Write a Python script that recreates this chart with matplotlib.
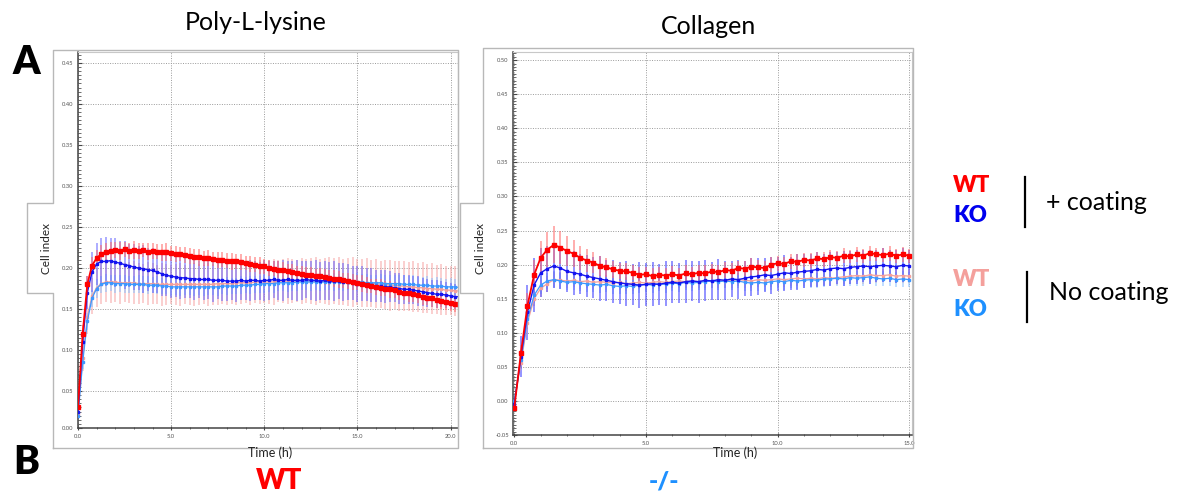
import numpy as np
import matplotlib
matplotlib.use("Agg")
import matplotlib.pyplot as plt
from matplotlib.lines import Line2D
from matplotlib.ticker import MultipleLocator, FuncFormatter, FixedLocator

# ---------------- data ----------------
panel_titles = ["Poly-L-lysine", "Collagen"]
x_label = "Time (h)"
y_label = "Cell index"

# Poly-L-lysine panel, readings every 0.25 h from 0 to 20.5 h
t_left = np.arange(0, 20.5 + 1e-9, 0.25)
L_wt_coat = [0.030, 0.120, 0.180, 0.203, 0.212, 0.217, 0.220, 0.221,
             0.222, 0.221, 0.223, 0.221, 0.222, 0.221, 0.222, 0.220,
             0.221, 0.220, 0.219, 0.219, 0.218, 0.217, 0.217, 0.216,
             0.215, 0.214, 0.213, 0.212, 0.212, 0.211, 0.210, 0.210,
             0.209, 0.208, 0.208, 0.207, 0.206, 0.205, 0.204, 0.203,
             0.202, 0.200, 0.199, 0.198, 0.197, 0.196, 0.195, 0.194,
             0.193, 0.192, 0.191, 0.190, 0.190, 0.189, 0.188, 0.187,
             0.186, 0.185, 0.184, 0.183, 0.182, 0.181, 0.179, 0.178,
             0.177, 0.176, 0.175, 0.174, 0.173, 0.171, 0.170, 0.169,
             0.168, 0.167, 0.165, 0.164, 0.163, 0.161, 0.160, 0.159,
             0.157, 0.156, 0.155]
L_wt_coat_err = [0.005, 0.010, 0.010, 0.010, 0.010, 0.011, 0.010, 0.011,
                 0.010, 0.011, 0.009, 0.010, 0.011, 0.010, 0.009, 0.010,
                 0.010, 0.009, 0.010, 0.011, 0.009, 0.010, 0.009, 0.010,
                 0.010, 0.009, 0.010, 0.009, 0.010, 0.009, 0.010, 0.009,
                 0.009, 0.010, 0.009, 0.010, 0.009, 0.010, 0.009, 0.010,
                 0.009, 0.010, 0.009, 0.010, 0.010, 0.009, 0.010, 0.009,
                 0.010, 0.009, 0.010, 0.009, 0.010, 0.010, 0.009, 0.010,
                 0.010, 0.009, 0.010, 0.010, 0.009, 0.010, 0.010, 0.009,
                 0.010, 0.010, 0.009, 0.010, 0.010, 0.010, 0.009, 0.010,
                 0.010, 0.010, 0.010, 0.009, 0.010, 0.010, 0.010, 0.010,
                 0.010, 0.010, 0.010]
L_ko_coat = [0.025, 0.110, 0.170, 0.195, 0.205, 0.208, 0.208, 0.209,
             0.207, 0.206, 0.204, 0.203, 0.201, 0.200, 0.199, 0.198,
             0.197, 0.195, 0.193, 0.191, 0.190, 0.189, 0.188, 0.188,
             0.187, 0.187, 0.186, 0.186, 0.186, 0.185, 0.185, 0.185,
             0.184, 0.184, 0.184, 0.185, 0.184, 0.185, 0.185, 0.184,
             0.185, 0.185, 0.186, 0.185, 0.185, 0.186, 0.185, 0.185,
             0.185, 0.186, 0.185, 0.185, 0.184, 0.185, 0.184, 0.184,
             0.184, 0.183, 0.183, 0.182, 0.181, 0.181, 0.180, 0.179,
             0.178, 0.178, 0.177, 0.177, 0.176, 0.175, 0.174, 0.174,
             0.173, 0.172, 0.171, 0.170, 0.169, 0.168, 0.168, 0.167,
             0.166, 0.165, 0.165]
L_ko_coat_err = [0.005, 0.015, 0.020, 0.024, 0.026, 0.028, 0.030, 0.028,
                 0.030, 0.027, 0.029, 0.026, 0.028, 0.027, 0.029, 0.026,
                 0.028, 0.026, 0.027, 0.025, 0.026, 0.024, 0.026, 0.025,
                 0.024, 0.026, 0.023, 0.025, 0.024, 0.026, 0.023, 0.025,
                 0.024, 0.023, 0.025, 0.024, 0.023, 0.025, 0.024, 0.023,
                 0.025, 0.024, 0.023, 0.024, 0.025, 0.023, 0.024, 0.025,
                 0.024, 0.023, 0.024, 0.025, 0.023, 0.024, 0.023, 0.024,
                 0.022, 0.023, 0.022, 0.021, 0.022, 0.021, 0.020, 0.021,
                 0.020, 0.019, 0.020, 0.019, 0.018, 0.019, 0.018, 0.018,
                 0.017, 0.018, 0.017, 0.017, 0.016, 0.017, 0.016, 0.016,
                 0.016, 0.015, 0.015]
L_wt_nocoat = [0.022, 0.090, 0.140, 0.166, 0.176, 0.181, 0.183, 0.183,
               0.183, 0.182, 0.182, 0.182, 0.182, 0.181, 0.181, 0.181,
               0.181, 0.180, 0.180, 0.180, 0.180, 0.180, 0.180, 0.180,
               0.180, 0.180, 0.180, 0.180, 0.180, 0.180, 0.181, 0.181,
               0.181, 0.181, 0.182, 0.182, 0.182, 0.182, 0.183, 0.183,
               0.183, 0.183, 0.183, 0.184, 0.184, 0.184, 0.184, 0.184,
               0.184, 0.184, 0.184, 0.184, 0.184, 0.184, 0.184, 0.184,
               0.184, 0.183, 0.183, 0.183, 0.183, 0.182, 0.182, 0.181,
               0.181, 0.180, 0.180, 0.179, 0.179, 0.178, 0.178, 0.177,
               0.177, 0.176, 0.176, 0.175, 0.175, 0.174, 0.174, 0.173,
               0.173, 0.172, 0.172]
L_wt_nocoat_err = [0.005, 0.015, 0.020, 0.022, 0.024, 0.025, 0.025, 0.026,
                   0.025, 0.026, 0.024, 0.025, 0.026, 0.025, 0.024, 0.026,
                   0.025, 0.024, 0.026, 0.025, 0.024, 0.025, 0.026, 0.024,
                   0.025, 0.026, 0.025, 0.024, 0.026, 0.025, 0.026, 0.025,
                   0.026, 0.025, 0.027, 0.026, 0.025, 0.027, 0.026, 0.027,
                   0.026, 0.027, 0.028, 0.026, 0.027, 0.028, 0.027, 0.026,
                   0.028, 0.027, 0.028, 0.029, 0.027, 0.028, 0.029, 0.028,
                   0.029, 0.028, 0.029, 0.030, 0.028, 0.029, 0.030, 0.029,
                   0.030, 0.029, 0.030, 0.031, 0.029, 0.030, 0.031, 0.030,
                   0.031, 0.030, 0.031, 0.030, 0.031, 0.030, 0.031, 0.030,
                   0.030, 0.031, 0.030]
L_ko_nocoat = [0.020, 0.085, 0.135, 0.163, 0.175, 0.180, 0.182, 0.182,
               0.181, 0.181, 0.181, 0.180, 0.180, 0.180, 0.180, 0.179,
               0.179, 0.179, 0.178, 0.178, 0.177, 0.177, 0.177, 0.177,
               0.177, 0.177, 0.177, 0.177, 0.177, 0.177, 0.177, 0.178,
               0.178, 0.178, 0.178, 0.179, 0.179, 0.179, 0.180, 0.180,
               0.181, 0.181, 0.181, 0.182, 0.182, 0.182, 0.182, 0.183,
               0.183, 0.183, 0.183, 0.183, 0.183, 0.183, 0.183, 0.183,
               0.183, 0.183, 0.183, 0.183, 0.183, 0.183, 0.182, 0.182,
               0.182, 0.182, 0.181, 0.181, 0.181, 0.181, 0.180, 0.180,
               0.180, 0.179, 0.179, 0.179, 0.178, 0.178, 0.178, 0.177,
               0.177, 0.177, 0.176]
L_ko_nocoat_err = [0.004, 0.008, 0.010, 0.010, 0.011, 0.010, 0.011, 0.010,
                   0.011, 0.010, 0.011, 0.010, 0.010, 0.011, 0.010, 0.011,
                   0.010, 0.011, 0.010, 0.010, 0.011, 0.010, 0.011, 0.010,
                   0.010, 0.011, 0.010, 0.011, 0.010, 0.010, 0.011, 0.010,
                   0.011, 0.010, 0.010, 0.011, 0.010, 0.011, 0.010, 0.010,
                   0.011, 0.010, 0.011, 0.010, 0.010, 0.011, 0.010, 0.011,
                   0.010, 0.010, 0.011, 0.010, 0.011, 0.010, 0.010, 0.011,
                   0.010, 0.011, 0.010, 0.010, 0.011, 0.010, 0.011, 0.010,
                   0.010, 0.011, 0.010, 0.011, 0.010, 0.010, 0.011, 0.010,
                   0.011, 0.010, 0.010, 0.011, 0.010, 0.011, 0.010, 0.010,
                   0.011, 0.010, 0.010]

# Collagen panel, readings every 0.25 h from 0 to 15 h
t_right = np.arange(0, 15.0 + 1e-9, 0.25)
R_wt_coat = [-0.010, 0.070, 0.140, 0.185, 0.210, 0.222, 0.229, 0.225,
             0.220, 0.216, 0.210, 0.206, 0.203, 0.198, 0.196, 0.193,
             0.191, 0.190, 0.188, 0.185, 0.186, 0.183, 0.185, 0.184,
             0.186, 0.184, 0.187, 0.186, 0.188, 0.187, 0.190, 0.189,
             0.192, 0.191, 0.195, 0.194, 0.197, 0.196, 0.195, 0.200,
             0.202, 0.201, 0.205, 0.204, 0.207, 0.206, 0.209, 0.208,
             0.211, 0.210, 0.213, 0.212, 0.215, 0.213, 0.217, 0.215,
             0.214, 0.216, 0.213, 0.215, 0.213]
R_wt_coat_err = [0.005, 0.012, 0.018, 0.022, 0.024, 0.026, 0.027, 0.024,
                 0.022, 0.020, 0.018, 0.017, 0.016, 0.015, 0.014, 0.013,
                 0.012, 0.012, 0.011, 0.012, 0.011, 0.012, 0.011, 0.011,
                 0.012, 0.011, 0.012, 0.011, 0.011, 0.012, 0.011, 0.011,
                 0.012, 0.011, 0.010, 0.011, 0.012, 0.011, 0.010, 0.011,
                 0.011, 0.010, 0.011, 0.012, 0.010, 0.011, 0.010, 0.011,
                 0.011, 0.010, 0.011, 0.010, 0.011, 0.010, 0.011, 0.010,
                 0.010, 0.011, 0.010, 0.011, 0.010]
R_ko_coat = [-0.005, 0.065, 0.130, 0.170, 0.188, 0.194, 0.198, 0.195,
             0.190, 0.188, 0.186, 0.183, 0.181, 0.179, 0.177, 0.175,
             0.173, 0.172, 0.171, 0.170, 0.171, 0.172, 0.171, 0.173,
             0.174, 0.173, 0.175, 0.176, 0.175, 0.177, 0.176, 0.178,
             0.177, 0.179, 0.178, 0.180, 0.182, 0.183, 0.185, 0.184,
             0.186, 0.188, 0.187, 0.189, 0.190, 0.191, 0.193, 0.192,
             0.194, 0.195, 0.194, 0.196, 0.197, 0.198, 0.197, 0.198,
             0.199, 0.198, 0.197, 0.199, 0.198]
R_ko_coat_err = [0.005, 0.030, 0.040, 0.040, 0.036, 0.034, 0.032, 0.031,
                 0.030, 0.032, 0.029, 0.031, 0.030, 0.033, 0.030, 0.032,
                 0.031, 0.033, 0.030, 0.034, 0.031, 0.032, 0.030, 0.033,
                 0.031, 0.030, 0.032, 0.029, 0.031, 0.030, 0.028, 0.030,
                 0.029, 0.027, 0.029, 0.026, 0.028, 0.027, 0.025, 0.027,
                 0.025, 0.026, 0.024, 0.026, 0.025, 0.024, 0.026, 0.024,
                 0.025, 0.024, 0.026, 0.024, 0.025, 0.023, 0.025, 0.024,
                 0.025, 0.023, 0.024, 0.025, 0.024]
R_wt_nocoat = [0.000, 0.055, 0.115, 0.150, 0.165, 0.172, 0.178, 0.177,
               0.176, 0.177, 0.175, 0.176, 0.174, 0.175, 0.174, 0.173,
               0.174, 0.172, 0.173, 0.174, 0.173, 0.174, 0.175, 0.174,
               0.175, 0.176, 0.175, 0.176, 0.175, 0.177, 0.176, 0.177,
               0.176, 0.177, 0.178, 0.177, 0.176, 0.178, 0.177, 0.178,
               0.179, 0.178, 0.179, 0.180, 0.179, 0.180, 0.179, 0.181,
               0.180, 0.181, 0.182, 0.183, 0.184, 0.183, 0.185, 0.184,
               0.184, 0.185, 0.183, 0.184, 0.183]
R_wt_nocoat_err = [0.004, 0.008, 0.010, 0.011, 0.012, 0.012, 0.011, 0.012,
                   0.011, 0.010, 0.011, 0.010, 0.011, 0.010, 0.011, 0.010,
                   0.011, 0.010, 0.011, 0.010, 0.011, 0.010, 0.011, 0.010,
                   0.010, 0.011, 0.010, 0.011, 0.010, 0.011, 0.010, 0.011,
                   0.010, 0.011, 0.010, 0.011, 0.010, 0.011, 0.010, 0.011,
                   0.010, 0.011, 0.010, 0.011, 0.010, 0.011, 0.010, 0.011,
                   0.010, 0.011, 0.010, 0.011, 0.010, 0.011, 0.010, 0.011,
                   0.010, 0.011, 0.010, 0.011, 0.010]
R_ko_nocoat = [0.000, 0.060, 0.120, 0.155, 0.170, 0.176, 0.178, 0.176,
               0.174, 0.175, 0.173, 0.172, 0.171, 0.170, 0.171, 0.169,
               0.168, 0.169, 0.168, 0.170, 0.171, 0.170, 0.172, 0.171,
               0.173, 0.172, 0.174, 0.173, 0.174, 0.175, 0.176, 0.175,
               0.176, 0.175, 0.176, 0.174, 0.173, 0.174, 0.173, 0.175,
               0.176, 0.175, 0.177, 0.176, 0.177, 0.178, 0.177, 0.179,
               0.179, 0.180, 0.179, 0.181, 0.180, 0.181, 0.182, 0.180,
               0.179, 0.180, 0.178, 0.179, 0.178]
R_ko_nocoat_err = [0.004, 0.008, 0.010, 0.012, 0.013, 0.012, 0.013, 0.012,
                   0.011, 0.012, 0.011, 0.012, 0.011, 0.012, 0.011, 0.012,
                   0.011, 0.012, 0.011, 0.012, 0.011, 0.012, 0.011, 0.012,
                   0.011, 0.012, 0.011, 0.012, 0.011, 0.012, 0.011, 0.012,
                   0.011, 0.012, 0.011, 0.012, 0.011, 0.012, 0.011, 0.012,
                   0.011, 0.012, 0.011, 0.012, 0.011, 0.012, 0.011, 0.012,
                   0.011, 0.012, 0.011, 0.012, 0.011, 0.012, 0.011, 0.012,
                   0.011, 0.012, 0.011, 0.012, 0.011]

# ---------------- style ----------------
RED, BLUE, PINK, LBLUE = "#ff0000", "#1414f0", "#f4a09c", "#3d97ff"
W, H = 1184, 500
plt.rcParams["font.family"] = ["Lato", "DejaVu Sans"]

fig = plt.figure(figsize=(W / 100, H / 100), dpi=100)


def fx(x):
    return x / W


def fy(y):
    return 1 - y / H


def frame(left, top, right, bottom, tab_left, tab_top, tab_bottom):
    xs = [left, left, tab_left, tab_left, left, left, right, right, left]
    ys = [bottom, tab_bottom, tab_bottom, tab_top, tab_top, top, top, bottom, bottom]
    fig.add_artist(Line2D([fx(v) for v in xs], [fy(v) for v in ys],
                          color="#b8b8b8", lw=1.0))


frame(53, 50, 458, 448, 27, 203, 293)
frame(483, 48, 913, 448, 460, 203, 293)


def style_axes(ax, xmin, xmax, ymin, ymax, xticks, yticks):
    ax.set_xlim(xmin, xmax)
    ax.set_ylim(ymin, ymax)
    ax.xaxis.set_major_locator(FixedLocator(xticks))
    ax.yaxis.set_major_locator(FixedLocator(yticks))
    ax.xaxis.set_minor_locator(MultipleLocator(1))
    ax.yaxis.set_minor_locator(MultipleLocator(0.005))
    ax.xaxis.set_major_formatter(FuncFormatter(lambda v, p: f"{v:.1f}"))
    ax.yaxis.set_major_formatter(FuncFormatter(lambda v, p: f"{v:.2f}"))
    ax.tick_params(axis="both", which="major", labelsize=4.2, labelcolor="#555555",
                   color="#444444", length=3, width=0.8, pad=3)
    ax.tick_params(axis="x", which="both", direction="inout")
    ax.tick_params(axis="y", which="both", direction="in")
    ax.tick_params(axis="both", which="minor", length=2, width=0.6, color="#555555")
    ax.grid(True, which="major", linestyle=(0, (1, 1.5)), color="#9a9a9a", lw=0.7)
    for s in ("left", "bottom"):
        ax.spines[s].set_color("#444444")
        ax.spines[s].set_linewidth(1.1)
    for s in ("top", "right"):
        ax.spines[s].set_color("#c8c8c8")
        ax.spines[s].set_linewidth(0.8)
    ax.set_facecolor("white")


def draw(ax, t, series):
    # error bars first, then lines with small square markers
    for y, e, c, ec, a, ms, lw in series:
        ax.errorbar(t, y, yerr=e, fmt="none", ecolor=ec, elinewidth=1.4,
                    alpha=a, capsize=0, zorder=2)
    for y, e, c, ec, a, ms, lw in series:
        ax.plot(t, y, color=c, lw=lw, marker="s", ms=ms, mec=c, mfc=c, zorder=3)


axL = fig.add_axes([fx(78), fy(428), fx(458 - 78), (428 - 52) / H])
style_axes(axL, 0, 20.4, 0.0049, 0.4634, [0, 5, 10, 15, 20],
           [0.0049, 0.05, 0.10, 0.15, 0.20, 0.25, 0.30, 0.35, 0.40, 0.45])
draw(axL, t_left, [
    (L_wt_nocoat, L_wt_nocoat_err, PINK, "#f6a8a8", 0.55, 1.6, 0.9),
    (L_ko_nocoat, L_ko_nocoat_err, LBLUE, "#8cc2ff", 0.55, 1.6, 0.9),
    (L_ko_coat, L_ko_coat_err, BLUE, "#5a5aff", 0.5, 2.0, 1.0),
    (L_wt_coat, L_wt_coat_err, RED, "#ff6a6a", 0.55, 2.6, 1.3),
])

axR = fig.add_axes([fx(513), fy(435), fx(912 - 513), (435 - 52) / H])
style_axes(axR, -0.05, 15.1, -0.05, 0.512, [0, 5, 10, 15],
           [-0.05, 0.0, 0.05, 0.10, 0.15, 0.20, 0.25, 0.30, 0.35, 0.40, 0.45, 0.50])
draw(axR, t_right, [
    (R_wt_nocoat, R_wt_nocoat_err, PINK, "#f6a8a8", 0.55, 1.6, 0.9),
    (R_ko_nocoat, R_ko_nocoat_err, LBLUE, "#8cc2ff", 0.55, 1.6, 0.9),
    (R_ko_coat, R_ko_coat_err, BLUE, "#4a4aff", 0.6, 2.0, 1.0),
    (R_wt_coat, R_wt_coat_err, RED, "#ff6a6a", 0.55, 2.6, 1.3),
])

# axis labels
for x in (270, 735):
    fig.text(fx(x), fy(453), x_label, ha="center", va="center", fontsize=9,
             color="#222222")
for x in (46, 481):
    fig.text(fx(x), fy(248), y_label, ha="center", va="center", rotation=90,
             fontsize=8.5, color="#222222")

# titles
fig.text(fx(256), fy(22), panel_titles[0], ha="center", va="center", fontsize=18)
fig.text(fx(709), fy(27), panel_titles[1], ha="center", va="center", fontsize=18)

# panel letters
fig.text(fx(26), fy(63), "A", ha="center", va="center", fontsize=28, fontweight="heavy")
fig.text(fx(26), fy(462), "B", ha="center", va="center", fontsize=28, fontweight="heavy")

# genotype labels below
fig.text(fx(279), fy(481), "WT", ha="center", va="center", fontsize=20,
         fontweight="heavy", color=RED)
fig.text(fx(664), fy(481), "-/-", ha="center", va="center", fontsize=18,
         fontweight="heavy", color="#1e90ff")

# legend
fig.text(fx(972), fy(186), "WT", ha="center", va="center", fontsize=16,
         fontweight="heavy", color=RED)
fig.text(fx(970), fy(216), "KO", ha="center", va="center", fontsize=16,
         fontweight="heavy", color="#0000ee")
fig.text(fx(972), fy(280), "WT", ha="center", va="center", fontsize=16,
         fontweight="heavy", color=PINK)
fig.text(fx(970), fy(310), "KO", ha="center", va="center", fontsize=16,
         fontweight="heavy", color="#1e90ff")
fig.add_artist(Line2D([fx(1025), fx(1025)], [fy(177), fy(227)], color="black", lw=1.6))
fig.add_artist(Line2D([fx(1027), fx(1027)], [fy(272), fy(322)], color="black", lw=1.6))
fig.text(fx(1046), fy(202), "+ coating", ha="left", va="center", fontsize=18)
fig.text(fx(1049), fy(292), "No coating", ha="left", va="center", fontsize=18)

fig.savefig("out.png", dpi=100, facecolor="white")
